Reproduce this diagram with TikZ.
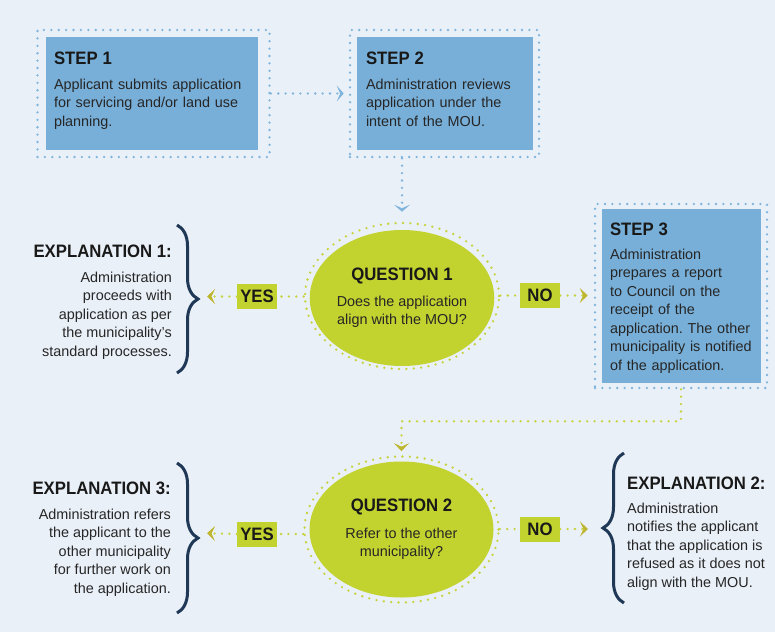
\documentclass[tikz,border=0pt]{standalone}
\usepackage{fontspec}
\setmainfont{Liberation Sans}
\newfontfamily\headfont[FakeStretch=0.93]{Liberation Sans}
\usetikzlibrary{positioning}
\usetikzlibrary{shapes.geometric}
\usetikzlibrary{arrows.meta}
\usetikzlibrary{decorations.pathreplacing}
\frenchspacing

\definecolor{bgblue}{HTML}{EAF0F8}
\definecolor{boxblue}{HTML}{78AFD8}
\definecolor{dotblue}{HTML}{7FB4DC}
\definecolor{lime}{HTML}{C2D22E}
\definecolor{limedot}{HTML}{C6D33E}
\definecolor{olive}{HTML}{BDB62E}
\definecolor{navy}{HTML}{1E3856}
\definecolor{ink}{HTML}{262626}

\newcommand{\headtxt}[1]{{\headfont\bfseries\fontsize{18}{18}\selectfont\color{black!90}#1}}

\tikzset{
  bodytext/.style={font=\fontsize{14.4}{18.5}\selectfont, text=ink, inner sep=0pt},
  stepframe/.style={draw=dotblue, dotline, inner sep=0pt},
  stepbox/.style={fill=boxblue, inner sep=0pt},
  qframe/.style={ellipse, draw=limedot, dotline, minimum width=194pt, minimum height=146pt, inner sep=0pt},
  question/.style={ellipse, fill=lime, minimum width=184pt, minimum height=136pt, inner sep=0pt, align=center, bodytext},
  choice/.style={fill=lime, minimum width=40pt, minimum height=25pt, inner sep=0pt,
    font=\headfont\bfseries\fontsize{18}{18}\selectfont, text=black!90},
  dotline/.style={line width=2.6pt, line cap=round, dash pattern=on 0pt off 7.4pt},
  blueline/.style={dotline, draw=dotblue},
  limeline/.style={dotline, draw=limedot},
  bluetip/.style={-{Stealth[length=7pt, width=16pt, inset=3.5pt, color=dotblue]}},
  limetip/.style={-{Stealth[length=8pt, width=15pt, inset=3.5pt, color=olive]}},
  curly/.style={draw=navy, line width=3pt, decorate, decoration={brace, amplitude=21pt}}
}

\begin{document}
\begin{tikzpicture}[x=1pt, y=-1pt]

  \fill[bgblue] (0,0) rectangle (775,632);
  \useasboundingbox (0,0) rectangle (775,632);

  % step boxes
  \node[stepframe, minimum width=232pt, minimum height=127pt] (s1f) at (153.5,93.5) {};
  \node[stepbox, minimum width=212pt, minimum height=113pt] (s1) at (152,93.5) {};
  \node[bodytext, text width=196pt, align=left, below right=15pt and 8pt of s1.north west] (s1txt)
    {\headtxt{STEP 1}\\[6pt] Applicant submits application\\ for servicing and/or land use\\ planning.};

  \node[stepframe, minimum width=189pt, minimum height=127pt] (s2f) at (444.5,93.5) {};
  \node[stepbox, minimum width=176pt, minimum height=113pt] (s2) at (445,93.5) {};
  \node[bodytext, text width=160pt, align=left, below right=15pt and 9pt of s2.north west] (s2txt)
    {\headtxt{STEP 2}\\[6pt] Administration reviews\\ application under the\\ intent of the MOU.};

  \node[stepframe, minimum width=172pt, minimum height=184pt] (s3f) at (681,296) {};
  \node[stepbox, minimum width=159pt, minimum height=174pt] (s3) at (681.5,296) {};
  \node[bodytext, text width=150pt, align=left, below right=14pt and 8pt of s3.north west] (s3txt)
    {\headtxt{STEP 3}\\[5pt] Administration\\ prepares a report\\ to Council on the\\ receipt of the\\ application. The other\\ municipality is notified\\ of the application.};

  % questions
  \node[qframe] (q1f) at (402,296) {};
  \node[question] (q1) at (402,298) {\headtxt{QUESTION 1}\\[7pt] Does the application\\ align with the MOU?};

  \node[qframe] (q2f) at (401.5,529.5) {};
  \node[question] (q2) at (401.5,529.5) {\headtxt{QUESTION 2}\\[8pt] Refer to the other\\ municipality?};

  \node[choice] (yes1) at (257,296.5) {YES};
  \node[choice] (no1) at (540,295.5) {NO};
  \node[choice] (yes2) at (257,534) {YES};
  \node[choice] (no2) at (540,529) {NO};

  % explanations
  \node[bodytext, align=right, anchor=north east] (e1) at (172,245)
    {\headtxt{EXPLANATION 1:}\\[6pt] Administration\\ proceeds with\\ application as per\\ the municipality’s\\ standard processes.};
  \node[bodytext, align=left, anchor=north west] (e2) at (627,477)
    {\headtxt{EXPLANATION 2:}\\[5pt] Administration\\ notifies the applicant\\ that the application is\\ refused as it does not\\ align with the MOU.};
  \node[bodytext, align=right, anchor=north east] (e3) at (171,482)
    {\headtxt{EXPLANATION 3:}\\[6pt] Administration refers\\ the applicant to the\\ other municipality\\ for further work on\\ the application.};

  \draw[curly] (177,225) -- (177,373);
  \draw[curly] (624,603) -- (624,453);
  \draw[curly] (177,463) -- (177,613);

  \coordinate (b1) at (198,296.5);
  \coordinate (b2) at (599,529);
  \coordinate (b3) at (198,533);

  % lines
  \draw[blueline, bluetip, shorten >=5pt] (s1f.east) -- (s2f.west);
  \draw[blueline, bluetip, shorten >=10pt] (q1f.north |- s2f.south) -- (q1f.north);

  \draw[limeline] (q1f.west |- yes1) -- (yes1.east);
  \draw[limeline, limetip, shorten >=9pt] (yes1.west) -- (b1);
  \draw[limeline] (q1f.east |- no1) -- (no1.west);
  \draw[limeline, limetip, shorten >=6pt] (no1.east) -- (s3f.west |- no1);

  \draw[limeline, limetip, shorten >=4pt] (s3f.south) -- ++(0,32) -| (q2f.north);

  \draw[limeline] (q2f.west |- yes2) -- (yes2.east);
  \draw[limeline, limetip, shorten >=9pt] (yes2.west) -- (b3);
  \draw[limeline] (q2f.east |- no2) -- (no2.west);
  \draw[limeline, limetip, shorten >=11pt] (no2.east) -- (b2);

\end{tikzpicture}
\end{document}
